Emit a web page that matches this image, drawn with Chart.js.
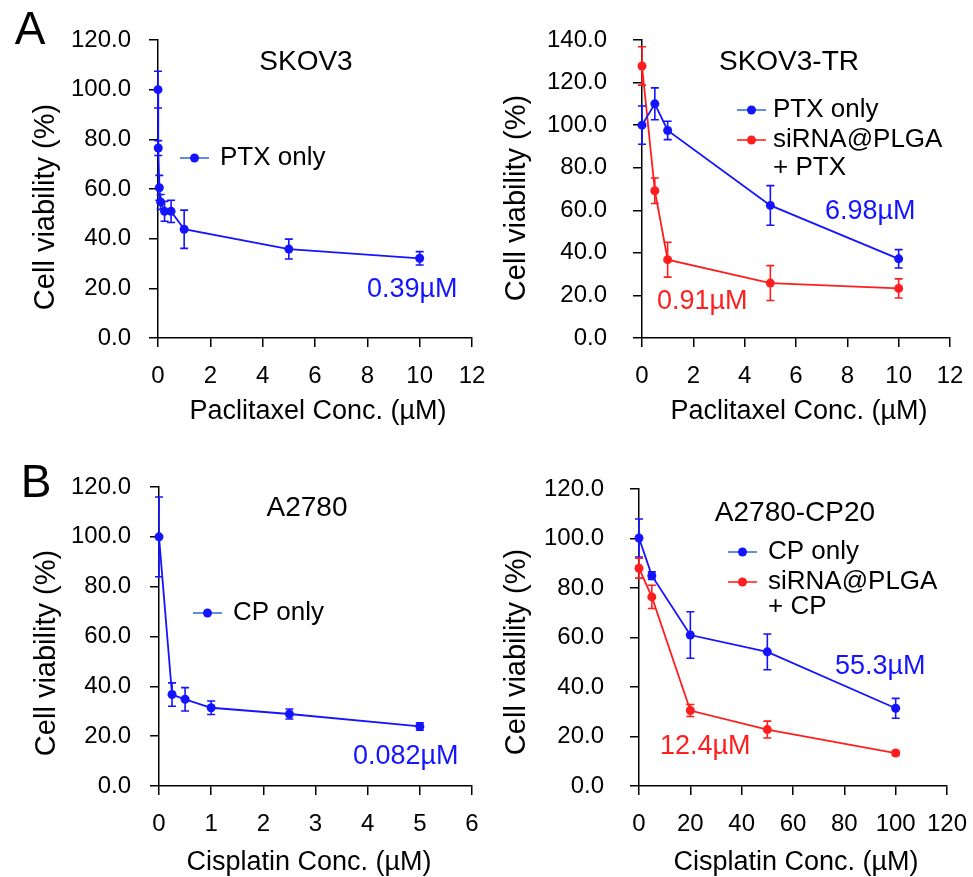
<!DOCTYPE html>
<html lang="en">
<head>
    <meta charset="UTF-8">
    <title>Cell viability</title>
    <script src="https://cdn.jsdelivr.net/npm/chart.js"></script>
    <style>
        body { margin: 0; background: #fff; }
        .panel { position: absolute; }
    </style>
</head>
<body>
    <div class="panel" style="left:0;top:0;width:486px;height:438px"><canvas id="skov3"></canvas></div>
    <div class="panel" style="left:486px;top:0;width:487px;height:438px"><canvas id="skov3tr"></canvas></div>
    <div class="panel" style="left:0;top:438px;width:486px;height:439px"><canvas id="a2780"></canvas></div>
    <div class="panel" style="left:486px;top:438px;width:487px;height:439px"><canvas id="cp20"></canvas></div>

<script>
// SKOV3, paclitaxel
const skovX = [0, 0.01, 0.05, 0.1, 0.25, 0.5, 1, 5, 10];
const skovPtx = [100, 76.5, 60.5, 54.8, 51, 51, 43.8, 35.8, 32.1];
const skovPtxErr = [7.4, 3, 5, 3, 4, 4.5, 7.7, 4, 2.7];

// SKOV3-TR, paclitaxel
const trX = [0, 0.5, 1, 5, 10];
const trPtx = [100, 110, 97.5, 62.3, 37.2];
const trPtxErr = [9, 7.5, 4.3, 9.3, 4.3];
const trSirna = [127.8, 69.2, 36.8, 25.8, 23.3];
const trSirnaErr = [9, 6, 8.2, 8.2, 4.5];

// A2780, cisplatin
const a2780X = [0, 0.25, 0.5, 1, 2.5, 5];
const a2780Cp = [100, 36.7, 34.8, 31.4, 28.9, 23.9];
const a2780CpErr = [16, 4.7, 4.7, 2.7, 2, 1.5];

// A2780-CP20, cisplatin
const cp20X = [0, 5, 20, 50, 100];
const cp20Cp = [100.2, 85, 61, 54.2, 31.4];
const cp20CpErr = [7.7, 1.5, 9.4, 7.2, 4];
const cp20Sirna = [88, 76.4, 30.5, 22.8, 13.3];
const cp20SirnaErr = [4, 4.7, 2.4, 3.4, 1];

// tick labels
const ptxTicks = [0, 2, 4, 6, 8, 10, 12];
const a2780Ticks = [0, 1, 2, 3, 4, 5, 6];
const cp20Ticks = [0, 20, 40, 60, 80, 100, 120];
const y120Ticks = [0, 20, 40, 60, 80, 100, 120];
const y140Ticks = [0, 20, 40, 60, 80, 100, 120, 140];

const FONT = "'Liberation Sans', Arial, sans-serif";
const BLUE = '#1414ff';
const RED = '#ff1e1e';
Chart.defaults.font.family = FONT;

function series(label, xs, ys, errs, color) {
    return {
        label: label,
        data: xs.map((x, i) => ({ x: x, y: ys[i] })),
        err: errs,
        showLine: true,
        borderColor: color,
        backgroundColor: color,
        borderWidth: 1.8,
        pointRadius: 4.5,
        pointHoverRadius: 4.5,
        pointBorderWidth: 0,
        clip: false
    };
}

// vertical error bars with caps
const errorBars = {
    id: 'errorBars',
    afterDatasetsDraw(chart) {
        const ctx = chart.ctx;
        const yScale = chart.scales.y;
        chart.data.datasets.forEach((ds, di) => {
            const meta = chart.getDatasetMeta(di);
            ctx.save();
            ctx.strokeStyle = ds.borderColor;
            ctx.lineWidth = 1.6;
            meta.data.forEach((pt, i) => {
                const e = ds.err[i];
                const v = ds.data[i].y;
                const top = yScale.getPixelForValue(v + e);
                const bot = yScale.getPixelForValue(v - e);
                ctx.beginPath();
                ctx.moveTo(pt.x, top); ctx.lineTo(pt.x, bot);
                ctx.moveTo(pt.x - 4, top); ctx.lineTo(pt.x + 4, top);
                ctx.moveTo(pt.x - 4, bot); ctx.lineTo(pt.x + 4, bot);
                ctx.stroke();
            });
            ctx.restore();
        });
    }
};

// titles, legend, IC50 labels
function decor(d) {
    return {
        id: 'decor',
        afterDraw(chart) {
            const ctx = chart.ctx;
            ctx.save();
            ctx.textBaseline = 'middle';
            d.texts.forEach(t => {
                ctx.font = t.size + 'px ' + FONT;
                ctx.fillStyle = t.color || '#000';
                ctx.textAlign = t.align || 'center';
                if (t.rotate) {
                    ctx.save();
                    ctx.translate(t.x, t.y);
                    ctx.rotate(-Math.PI / 2);
                    ctx.fillText(t.text, 0, 0);
                    ctx.restore();
                } else {
                    ctx.fillText(t.text, t.x, t.y);
                }
            });
            d.legend.forEach(l => {
                if (l.line) {
                    ctx.strokeStyle = l.line;
                    ctx.lineWidth = 1.8;
                    ctx.beginPath();
                    ctx.moveTo(l.x0, l.y); ctx.lineTo(l.x0 + 29, l.y);
                    ctx.stroke();
                    ctx.fillStyle = l.color;
                    ctx.beginPath();
                    ctx.arc(l.x0 + 14.5, l.y, 4.5, 0, Math.PI * 2);
                    ctx.fill();
                }
                ctx.font = '26px ' + FONT;
                ctx.fillStyle = '#000';
                ctx.textAlign = 'left';
                ctx.fillText(l.text, l.tx, l.y);
            });
            ctx.restore();
        }
    };
}

function axis(ticks, size, pad, fmt, fit) {
    return {
        type: 'linear',
        min: ticks[0],
        max: ticks[ticks.length - 1],
        afterBuildTicks: s => { s.ticks = ticks.map(v => ({ value: v })); },
        afterFit: s => {
            fit(s);
            // let the layout padding alone decide where the plot area sits
            s.paddingLeft = 0; s.paddingRight = 0;
            s.paddingTop = 0; s.paddingBottom = 0;
        },
        border: { display: true, color: '#000', width: 1.5 },
        grid: { display: true, drawOnChartArea: false, drawTicks: true, tickLength: 9, color: '#000', lineWidth: 1.5 },
        ticks: { padding: pad, color: '#000', font: { size: size }, maxRotation: 0, autoSkip: false, callback: fmt }
    };
}

function panel(id, p) {
    return new Chart(document.getElementById(id), {
        type: 'scatter',
        data: { datasets: p.datasets },
        options: {
            responsive: true,
            maintainAspectRatio: false,
            animation: false,
            layout: { padding: { top: p.padTop, right: p.padRight, left: 0, bottom: 0 } },
            plugins: { legend: { display: false }, tooltip: { enabled: false } },
            scales: {
                x: axis(p.xTicks, 24, 15, v => String(v), s => { s.height = p.xHeight; }),
                y: axis(p.yTicks, 24, p.yPad, v => v.toFixed(1), s => { s.width = p.yWidth; })
            }
        },
        plugins: [errorBars, decor(p.decor)]
    });
}

panel('skov3', {
    datasets: [series('PTX only', skovX, skovPtx, skovPtxErr, BLUE)],
    xTicks: ptxTicks, yTicks: y120Ticks,
    yWidth: 158, xHeight: 100, padTop: 40, padRight: 14, yPad: 18,
    decor: {
        texts: [
            { text: 'A', x: 30, y: 31, size: 46 },
            { text: 'SKOV3', x: 306, y: 62, size: 28 },
            { text: '0.39µM', x: 367, y: 290, size: 27, align: 'left', color: BLUE },
            { text: 'Cell viability (%)', x: 46, y: 207, size: 29, rotate: true },
            { text: 'Paclitaxel Conc. (µM)', x: 318, y: 412, size: 27 }
        ],
        legend: [
            { text: 'PTX only', x0: 180, tx: 220, y: 158, line: '#4f7fe0', color: BLUE }
        ]
    }
});

panel('skov3tr', {
    datasets: [
        series('PTX only', trX, trPtx, trPtxErr, BLUE),
        series('siRNA@PLGA + PTX', trX, trSirna, trSirnaErr, RED)
    ],
    xTicks: ptxTicks, yTicks: y140Ticks,
    yWidth: 156, xHeight: 100, padTop: 40, padRight: 23, yPad: 26,
    decor: {
        texts: [
            { text: 'SKOV3-TR', x: 303, y: 62, size: 28 },
            { text: '6.98µM', x: 339, y: 212, size: 27, align: 'left', color: BLUE },
            { text: '0.91µM', x: 171, y: 302, size: 27, align: 'left', color: RED },
            { text: 'Cell viability (%)', x: 31, y: 198, size: 29, rotate: true },
            { text: 'Paclitaxel Conc. (µM)', x: 313, y: 412, size: 27 }
        ],
        legend: [
            { text: 'PTX only', x0: 251, tx: 287, y: 110, line: '#4f7fe0', color: BLUE },
            { text: 'siRNA@PLGA', x0: 251, tx: 287, y: 140, line: '#ff3c3c', color: RED },
            { text: '+ PTX', tx: 287, y: 168 }
        ]
    }
});

panel('a2780', {
    datasets: [series('CP only', a2780X, a2780Cp, a2780CpErr, BLUE)],
    xTicks: a2780Ticks, yTicks: y120Ticks,
    yWidth: 159, xHeight: 91, padTop: 49, padRight: 14, yPad: 19,
    decor: {
        texts: [
            { text: 'B', x: 36, y: 46, size: 46 },
            { text: 'A2780', x: 307, y: 70, size: 28 },
            { text: '0.082µM', x: 353, y: 319, size: 27, align: 'left', color: BLUE },
            { text: 'Cell viability (%)', x: 47, y: 215, size: 29, rotate: true },
            { text: 'Cisplatin Conc. (µM)', x: 309, y: 425, size: 27 }
        ],
        legend: [
            { text: 'CP only', x0: 193, tx: 233, y: 175, line: '#4f7fe0', color: BLUE }
        ]
    }
});

panel('cp20', {
    datasets: [
        series('CP only', cp20X, cp20Cp, cp20CpErr, BLUE),
        series('siRNA@PLGA + CP', cp20X, cp20Sirna, cp20SirnaErr, RED)
    ],
    xTicks: cp20Ticks, yTicks: y120Ticks,
    yWidth: 153, xHeight: 91, padTop: 51, padRight: 26, yPad: 26,
    decor: {
        texts: [
            { text: 'A2780-CP20', x: 309, y: 75, size: 28 },
            { text: '55.3µM', x: 349, y: 229, size: 27, align: 'left', color: BLUE },
            { text: '12.4µM', x: 174, y: 309, size: 27, align: 'left', color: RED },
            { text: 'Cell viability (%)', x: 31, y: 214, size: 29, rotate: true },
            { text: 'Cisplatin Conc. (µM)', x: 310, y: 425, size: 27 }
        ],
        legend: [
            { text: 'CP only', x0: 242, tx: 282, y: 114, line: '#4f7fe0', color: BLUE },
            { text: 'siRNA@PLGA', x0: 242, tx: 282, y: 144, line: '#ff3c3c', color: RED },
            { text: '+ CP', tx: 282, y: 169 }
        ]
    }
});
</script>
</body>
</html>
